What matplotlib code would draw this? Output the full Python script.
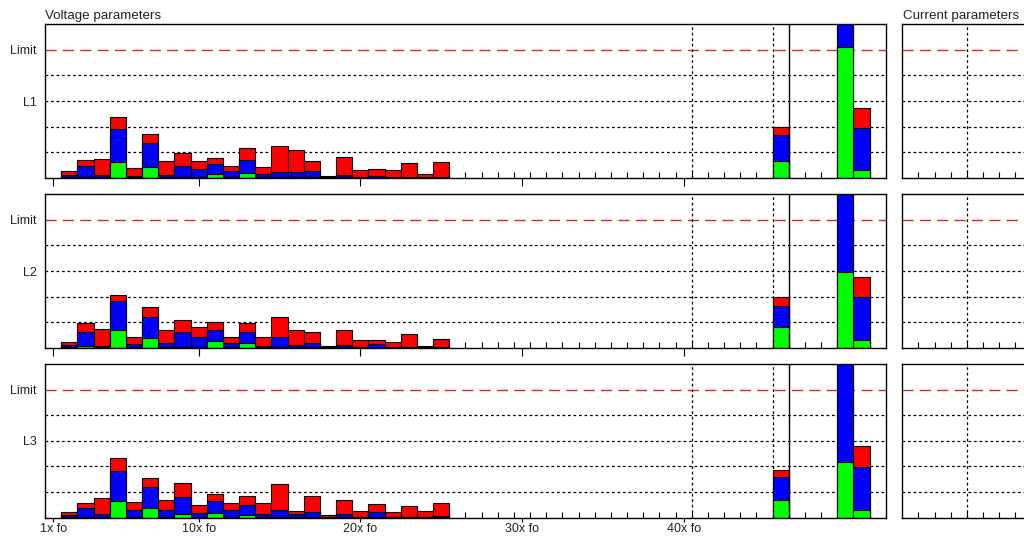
import numpy as np
import matplotlib
matplotlib.use("Agg")
import matplotlib.pyplot as plt

plt.rcParams["font.family"] = ["Liberation Sans", "DejaVu Sans"]

# harmonic orders shown as bars
harmonics = [2, 3, 4, 5, 6, 7, 8, 9, 10, 11, 12, 13, 14, 15, 16, 17, 18, 19, 20,
             21, 22, 23, 24, 25, 46, 50, 51]

# max (red), average (blue), min (green) per phase
l1_max = [0.27, 0.70, 0.74, 2.36, 0.38, 1.71, 0.68, 0.97, 0.65, 0.78, 0.48, 1.18, 0.42, 1.23,
          1.09, 0.68, 0.09, 0.81, 0.31, 0.36, 0.31, 0.57, 0.16, 0.64, 1.97, 7.0, 2.74]
l1_avg = [0.12, 0.47, 0.10, 1.91, 0.08, 1.35, 0.10, 0.47, 0.34, 0.53, 0.29, 0.70, 0.16, 0.23,
          0.23, 0.27, 0.04, 0.10, 0.05, 0.08, 0.04, 0.04, 0.03, 0.04, 1.67, 6.5, 1.96]
l1_min = [0.04, 0.03, 0.02, 0.64, 0.02, 0.43, 0.02, 0.03, 0.03, 0.14, 0.03, 0.18, 0.02, 0.02,
          0.02, 0.02, 0.01, 0.02, 0.01, 0.01, 0.01, 0.01, 0.01, 0.01, 0.67, 5.1, 0.31]

l2_max = [0.25, 0.96, 0.73, 2.06, 0.44, 1.61, 0.69, 1.10, 0.82, 1.03, 0.44, 0.99, 0.44, 1.19,
          0.70, 0.64, 0.09, 0.70, 0.31, 0.32, 0.25, 0.53, 0.06, 0.35, 1.99, 7.0, 2.77]
l2_avg = [0.12, 0.64, 0.08, 1.83, 0.16, 1.21, 0.18, 0.64, 0.44, 0.69, 0.18, 0.61, 0.06, 0.44,
          0.10, 0.18, 0.03, 0.10, 0.03, 0.14, 0.03, 0.03, 0.03, 0.03, 1.64, 6.5, 1.99]
l2_min = [0.03, 0.09, 0.02, 0.69, 0.02, 0.39, 0.02, 0.02, 0.02, 0.29, 0.02, 0.18, 0.02, 0.02,
          0.02, 0.02, 0.01, 0.02, 0.01, 0.01, 0.01, 0.01, 0.01, 0.01, 0.82, 2.96, 0.31]

l3_max = [0.23, 0.58, 0.78, 2.35, 0.60, 1.56, 0.71, 1.34, 0.48, 0.91, 0.56, 0.86, 0.56, 1.30,
          0.26, 0.84, 0.09, 0.69, 0.27, 0.52, 0.23, 0.44, 0.27, 0.56, 1.88, 7.0, 2.79]
l3_avg = [0.12, 0.36, 0.16, 1.81, 0.32, 1.18, 0.30, 0.82, 0.19, 0.64, 0.29, 0.48, 0.14, 0.32,
          0.14, 0.23, 0.03, 0.14, 0.03, 0.23, 0.03, 0.03, 0.03, 0.08, 1.57, 6.5, 1.96]
l3_min = [0.03, 0.02, 0.02, 0.64, 0.02, 0.39, 0.02, 0.16, 0.02, 0.19, 0.02, 0.12, 0.02, 0.02,
          0.02, 0.02, 0.01, 0.02, 0.01, 0.01, 0.01, 0.01, 0.01, 0.01, 0.68, 2.17, 0.31]

phases = ["L1", "L2", "L3"]
series = [(l1_max, l1_avg, l1_min), (l2_max, l2_avg, l2_min), (l3_max, l3_avg, l3_min)]

limit = 5
xtick_pos = [1, 10, 20, 30, 40]
xtick_lab = ["1x fo", "10x fo", "20x fo", "30x fo", "40x fo"]

W, H = 1024, 540
fig = plt.figure(figsize=(W / 100, H / 100), dpi=100)

panels = [(24, 178), (194, 348), (364, 517.7)]
txt = "#222222"


def style_axes(ax, xmax):
    ax.set_ylim(0, 6)
    ax.set_axisbelow(True)
    for y in [1, 2, 3, 4]:
        ax.axhline(y, color="black", lw=0.9, ls=(0, (2.2, 2.2)), zorder=0.6)
    ax.axhline(limit, color="#d42a2a", lw=1.0, ls=(0, (8, 4.5)), zorder=0.6)
    for s in ax.spines.values():
        s.set_linewidth(1.0)
    ax.set_xticks(np.arange(1.5, xmax, 1), minor=True)
    ax.tick_params(axis="x", which="minor", direction="in", length=4.5, width=0.8)
    ax.tick_params(axis="y", length=0, pad=6, labelsize=9, labelcolor=txt)


for i, (top, bot) in enumerate(panels):
    ax = fig.add_axes([45 / W, (H - bot) / H, (885.7 - 45) / W, (bot - top) / H])
    ax.set_xlim(0.5, 52.5)
    style_axes(ax, 52.5)
    vmax, vavg, vmin = series[i]
    kw = dict(width=1.0, edgecolor="black", linewidth=0.8, zorder=2)
    ax.bar(harmonics, vmax, color="#ff0000", **kw)
    ax.bar(harmonics, vavg, color="#0000ff", **kw)
    ax.bar(harmonics, vmin, color="#00ff00", **kw)
    ax.axvline(40.5, color="black", lw=0.9, ls=(0, (2.2, 2.2)), zorder=3)
    ax.axvline(45.5, color="black", lw=0.9, ls=(0, (2.2, 2.2)), zorder=3)
    ax.axvline(46.5, color="black", lw=1.0, zorder=3)
    ax.set_yticks([limit, 3])
    ax.set_yticklabels(["Limit", phases[i]])
    ax.set_xticks(xtick_pos)
    if i < 2:
        ax.tick_params(axis="x", which="major", direction="out", length=6, width=0.8)
        ax.set_xticklabels([])
    else:
        ax.tick_params(axis="x", which="major", direction="out", length=3, width=0.8,
                       labelsize=9, labelcolor=txt, pad=1)
        ax.set_xticklabels(xtick_lab)

    # current parameters panel (cut off at the right edge)
    axr = fig.add_axes([902.3 / W, (H - bot) / H, 160 / W, (bot - top) / H])
    axr.set_xlim(0.5, 0.5 + 160 / 16.16)
    style_axes(axr, 10)
    axr.axvline(4.5, color="black", lw=0.9, ls=(0, (2.2, 2.2)), zorder=3)
    axr.set_yticks([])
    axr.set_xticks([])

fig.text(45 / W, 1 - 16 / H, "Voltage parameters", fontsize=9.6, color=txt, va="center")
fig.text(903 / W, 1 - 16 / H, "Current parameters", fontsize=9.6, color=txt, va="center")

fig.savefig("out.png", dpi=100)
